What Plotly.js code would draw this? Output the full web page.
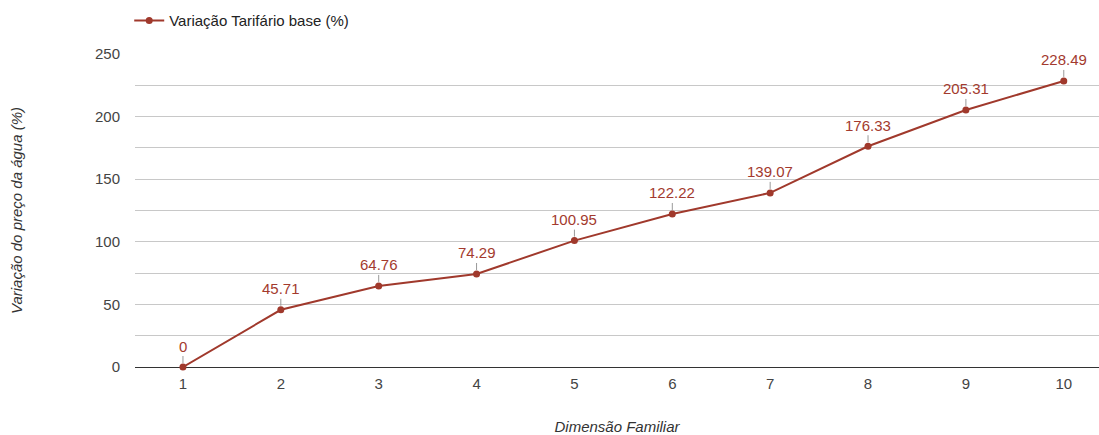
<!DOCTYPE html>
<html>
<head>
<meta charset="utf-8">
<script src="https://cdn.plot.ly/plotly-3.0.1.min.js"></script>
<style>html,body{margin:0;padding:0;background:#fff;}#chart{width:1099px;height:435px;}</style>
</head>
<body>
<div id="chart"></div>
<script>
var categories = [1, 2, 3, 4, 5, 6, 7, 8, 9, 10];
var values = [0, 45.71, 64.76, 74.29, 100.95, 122.22, 139.07, 176.33, 205.31, 228.49];
var labels = ["0", "45.71", "64.76", "74.29", "100.95", "122.22", "139.07", "176.33", "205.31", "228.49"];
var seriesName = "Variação Tarifário base (%)";

var lineColor = "#a0392c";
var font = "Liberation Sans, Arial, sans-serif";

var trace = {
  x: categories,
  y: values,
  type: "scatter",
  mode: "lines+markers",
  name: seriesName,
  line: {color: lineColor, width: 2},
  marker: {color: lineColor, size: 7},
  cliponaxis: false
};

var annotations = categories.map(function (c, i) {
  return {
    x: c, y: values[i], xref: "x", yref: "y",
    text: labels[i],
    showarrow: true, arrowhead: 0, arrowwidth: 1, arrowcolor: "#999",
    ax: 0, ay: -21, standoff: 4,
    font: {family: font, size: 15, color: "#a33a2e"}
  };
});

var layout = {
  width: 1099, height: 435,
  margin: {l: 135, r: 0, t: 54, b: 68, autoexpand: false},
  paper_bgcolor: "#fff", plot_bgcolor: "#fff",
  font: {family: font, size: 15, color: "#444"},
  showlegend: true,
  legend: {x: -0.006, xanchor: "left", y: 1.106, yanchor: "middle", orientation: "h",
           font: {family: font, size: 15, color: "#222"}},
  xaxis: {
    range: [0.51, 10.36],
    tickvals: categories,
    ticktext: categories.map(String),
    showgrid: false, zeroline: false, showline: false,
    ticks: "", ticklabelstandoff: 6, tickfont: {family: font, size: 15, color: "#444"},
    title: {text: "Dimensão Familiar", font: {family: font, size: 15, color: "#333", style: "italic"}, standoff: 32}
  },
  yaxis: {
    range: [0, 250],
    tickvals: [0, 25, 50, 75, 100, 125, 150, 175, 200, 225, 250],
    ticktext: ["0", "", "50", "", "100", "", "150", "", "200", "", "250"],
    showgrid: true, gridcolor: "#c8c8c8", gridwidth: 1,
    zeroline: true, zerolinecolor: "#333", zerolinewidth: 1,
    showline: false, ticks: "", ticklabelstandoff: 14,
    tickfont: {family: font, size: 15, color: "#444"},
    title: {text: "Variação do preço da água (%)", font: {family: font, size: 15, color: "#333", style: "italic"}, standoff: 68}
  },
  annotations: annotations
};

Plotly.newPlot("chart", [trace], layout, {displayModeBar: false, staticPlot: true});
</script>
</body>
</html>
